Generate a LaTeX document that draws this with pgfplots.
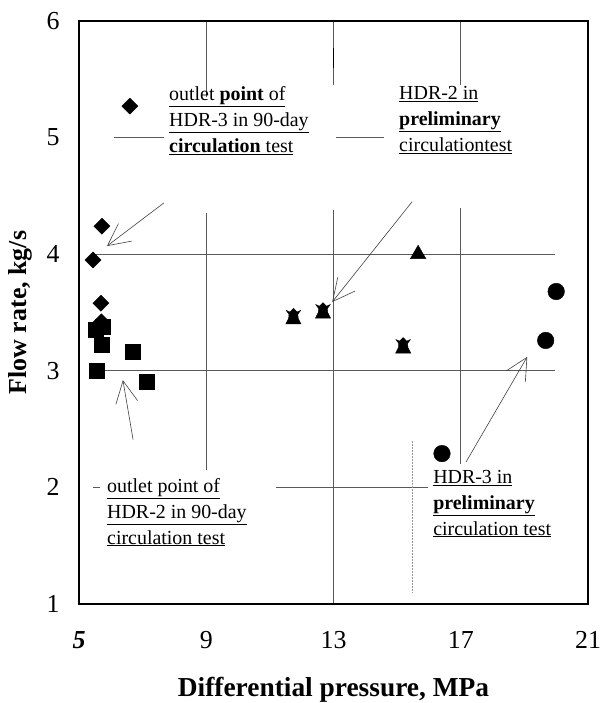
\documentclass[border=0pt]{standalone}
\usepackage{pgfplots}
\pgfplotsset{compat=1.18}
\usepackage{fontspec}
\setmainfont{Liberation Serif}
\usetikzlibrary{arrows.meta}

\pgfdeclareplotmark{rook}{%
  \pgfpathmoveto{\pgfqpoint{-0.95\pgfplotmarksize}{-\pgfplotmarksize}}%
  \pgfpathlineto{\pgfqpoint{0.95\pgfplotmarksize}{-\pgfplotmarksize}}%
  \pgfpathlineto{\pgfqpoint{0.6\pgfplotmarksize}{-0.3\pgfplotmarksize}}%
  \pgfpathlineto{\pgfqpoint{0.55\pgfplotmarksize}{0.2\pgfplotmarksize}}%
  \pgfpathlineto{\pgfqpoint{0.9\pgfplotmarksize}{0.7\pgfplotmarksize}}%
  \pgfpathlineto{\pgfqpoint{0.45\pgfplotmarksize}{0.5\pgfplotmarksize}}%
  \pgfpathlineto{\pgfqpoint{0\pgfplotmarksize}{0.95\pgfplotmarksize}}%
  \pgfpathlineto{\pgfqpoint{-0.45\pgfplotmarksize}{0.5\pgfplotmarksize}}%
  \pgfpathlineto{\pgfqpoint{-0.9\pgfplotmarksize}{0.7\pgfplotmarksize}}%
  \pgfpathlineto{\pgfqpoint{-0.55\pgfplotmarksize}{0.2\pgfplotmarksize}}%
  \pgfpathlineto{\pgfqpoint{-0.6\pgfplotmarksize}{-0.3\pgfplotmarksize}}%
  \pgfpathclose
  \pgfusepathqfillstroke}

\begin{document}
\begin{tikzpicture}
\begin{axis}[
  name=ax, at={(0,0)}, anchor=south west,
  scale only axis, width=509bp, height=583bp,
  xmin=5, xmax=21, ymin=1, ymax=6,
  xtick={5,9,13,17,21}, xticklabels={\textbf{\textit{5}},9,13,17,21},
  ytick={1,2,3,4,5,6},
  major tick length=0pt,
  axis line style={line width=2.4pt, draw=black},
  /pgf/number format/assume math mode=true,
  ticklabel style={font=\fontsize{26}{30}\selectfont},
  xticklabel style={anchor=center, yshift=-36bp},
  yticklabel style={anchor=center, xshift=-26bp},
  xlabel={Differential pressure, MPa},
  ylabel={Flow rate, kg/s},
  every axis x label/.style={at={(axis description cs:0.5,-0.1475)}, anchor=center, font=\bfseries\fontsize{27.5}{30}\selectfont},
  every axis y label/.style={at={(axis description cs:-0.116,0.5)}, anchor=center, rotate=90, font=\bfseries\fontsize{26}{30}\selectfont},
  clip=false,
  grid seg/.style={line width=0.7pt, black!65},
  arr/.style={line width=0.6pt, black!75, -{Straight Barb[length=22bp, width=22bp]}},
]
% partial grid lines
\addplot[grid seg] coordinates {(9,6) (9,5.35)};
\addplot[grid seg] coordinates {(9,4.35) (9,2.15)};
\addplot[grid seg] coordinates {(13,6) (13,5.45)};
\addplot[line width=2pt, black] coordinates {(13,5.77) (13,5.60)};
\addplot[grid seg] coordinates {(13,4.38) (13,1)};
\addplot[grid seg] coordinates {(17,6) (17,5.45)};
\addplot[grid seg] coordinates {(17,4.4) (17,2.2)};
\addplot[grid seg] coordinates {(5.47,4) (19.97,4)};
\addplot[grid seg] coordinates {(5.6,3) (19.97,3)};
\addplot[grid seg] coordinates {(11.18,2) (15.97,2)};
\addplot[grid seg] coordinates {(5.45,2) (5.65,2)};
\addplot[grid seg] coordinates {(6.1,5) (7.66,5)};
\addplot[grid seg] coordinates {(13.09,5) (14.6,5)};
\addplot[line width=0.5pt, black!40, densely dotted] coordinates {(15.47,2.4) (15.47,1.1)};

% frame
\addplot[line width=2.6pt, black, line join=miter] coordinates {(5,1) (21,1) (21,6) (5,6) (5,1)};

% arrows
\addplot[arr] coordinates {(7.67,4.44) (5.88,4.07)};
\addplot[arr] coordinates {(15.47,4.45) (12.96,3.59)};
\addplot[arr] coordinates {(6.7,2.41) (6.38,2.92)};
\addplot[arr] coordinates {(17.17,2.22) (19.09,3.12)};

% outlet point of HDR-2 in 90-day circulation test
\addplot[only marks, mark=square*, mark size=7.5bp, black] coordinates {
  (5.53,3.35) (5.75,3.38) (5.72,3.22) (6.70,3.16) (5.57,3.00) (7.14,2.91)};
% outlet point of HDR-3 in 90-day circulation test
\addplot[only marks, mark=square*, mark size=5.7bp, mark options={rotate=45}, black] coordinates {
  (5.44,3.95) (5.72,4.24) (5.69,3.58) (5.70,3.42)};
% legend marker
\addplot[only marks, mark=square*, mark size=5.7bp, mark options={rotate=45}, black] coordinates {(6.6,5.27)};
% HDR-2 in preliminary circulation test
\addplot[only marks, mark=rook, mark size=8bp, black] coordinates {
  (11.74,3.47) (12.67,3.52) (15.19,3.22)};
\addplot[only marks, mark=triangle*, mark size=9bp, black] coordinates {(15.66,4.0)};
% HDR-3 in preliminary circulation test
\addplot[only marks, mark=*, mark size=8.3bp, black] coordinates {
  (16.41,2.29) (19.67,3.26) (20.0,3.68)};

% annotations
\node[anchor=north west, inner sep=0pt, align=left, font=\fontsize{20}{26}\selectfont]
  at (axis cs:7.83,5.44) {\underline{outlet \textbf{point} of}\\ \underline{HDR-3 in 90-day}\\ \underline{\textbf{circulation} test}};
\node[anchor=north west, inner sep=0pt, align=left, font=\fontsize{20}{26}\selectfont]
  at (axis cs:15.06,5.44) {\underline{HDR-2 in}\\ \underline{\textbf{preliminary}}\\ \underline{circulationtest}};
\node[anchor=north west, inner sep=0pt, align=left, font=\fontsize{20}{26}\selectfont]
  at (axis cs:5.88,2.08) {\underline{outlet point of}\\ \underline{HDR-2 in 90-day}\\ \underline{circulation test}};
\node[anchor=north west, inner sep=0pt, align=left, font=\fontsize{20}{26}\selectfont]
  at (axis cs:16.13,2.15) {\underline{HDR-3 in}\\ \underline{\textbf{preliminary}}\\ \underline{circulation test}};
\end{axis}
\pgfresetboundingbox
\path[use as bounding box] (-79bp,-99bp) rectangle (524bp,604bp);
\end{tikzpicture}
\end{document}
